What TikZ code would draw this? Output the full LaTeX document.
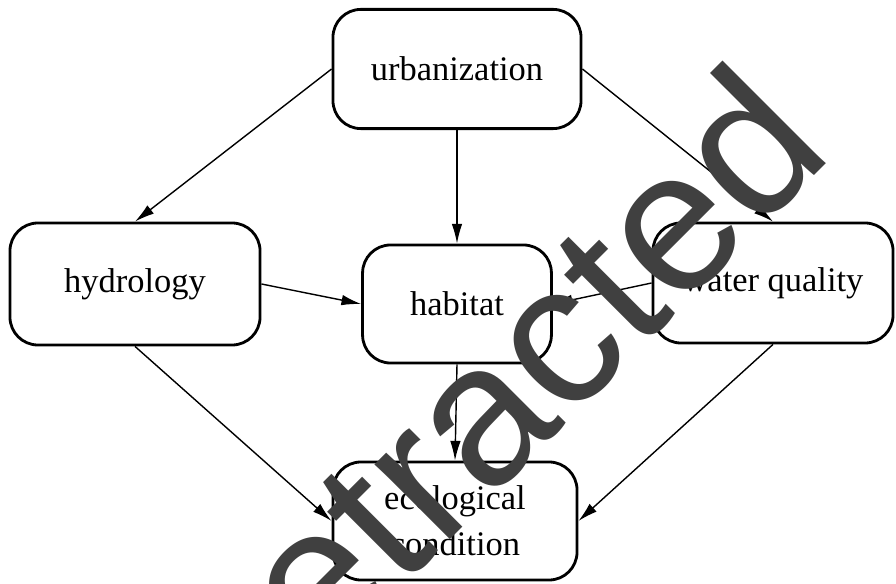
\documentclass[tikz,border=0pt]{standalone}
\usepackage{fontspec}
\setmainfont{Liberation Serif}
\newfontfamily\stampfont{Liberation Sans}
\usetikzlibrary{arrows.meta}
\begin{document}
\begin{tikzpicture}[x=0.025cm,y=-0.025cm,
  box/.style={draw,line width=2pt,rounded corners=0.7cm,align=center,
    inner sep=0pt,font=\fontsize{24.5}{32.8}\selectfont},
  link/.style={line width=1pt,-{Latex[length=14pt,width=7.5pt]}}]
\useasboundingbox (0,0) rectangle (896,584);
\clip (0,0) rectangle (896,584);

\node[box,minimum width=6.2cm,minimum height=2.98cm] (urb) at (457,69) {urbanization};
\node[box,minimum width=6.25cm,minimum height=3.05cm] (hyd) at (135,284) {hydrology};
\node[box,minimum width=4.72cm,minimum height=2.95cm] (hab) at (457,304) {habitat};
\node[box,minimum width=6.0cm,minimum height=3.0cm] (wq) at (773,283) {water quality};
\node[box,minimum width=6.1cm,minimum height=2.95cm] (eco) at (455,521) {ecological\\condition};

\draw[link] (urb.west) -- (hyd.north);
\draw[link] (urb.south) -- (hab.north);
\draw[link] (urb.east) -- (wq.north);
\draw[link] (hyd.east) -- (hab.west);
\draw[link] (wq.west) -- (hab.east);
\draw[link] (hyd.south) -- (eco.west);
\draw[link] (hab.south) -- (eco.north);
\draw[link] (wq.south) -- (eco.east);

\node[rotate=45,anchor=base,inner sep=0pt,text=black!75,
  font=\stampfont\fontsize{143}{143}\selectfont] (stamp) at (527,463) {Retracted};
\end{tikzpicture}
\end{document}
